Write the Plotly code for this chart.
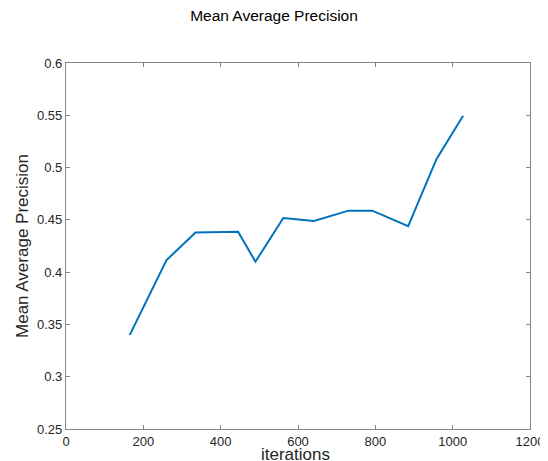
import plotly.graph_objects as go

iterations = [165, 260, 335, 445, 490, 562, 641, 731, 792, 885, 958, 1027]
map_values = [0.340, 0.4115, 0.438, 0.4387, 0.410, 0.4518, 0.449, 0.4588, 0.4588, 0.444, 0.508, 0.5496]

x_ticks = [0, 200, 400, 600, 800, 1000, 1200]
x_ticktext = ["0", "200", "400", "600", "800", "1000", "1200"]
y_ticks = [0.25, 0.3, 0.35, 0.4, 0.45, 0.5, 0.55, 0.6]
y_ticktext = ["0.25", "0.3", "0.35", "0.4", "0.45", "0.5", "0.55", "0.6"]

FONT = "Liberation Sans, Arial, Helvetica, sans-serif"
AXIS_COLOR = "#858585"
TEXT_COLOR = "#262626"

# The page body has an 8px margin, so the figure is 8px smaller than the window
W, H = 540, 453

fig = go.Figure()
fig.add_trace(go.Scatter(
    x=iterations, y=map_values, mode="lines",
    line=dict(color="#0072BD", width=2),
    showlegend=False,
))

axis_common = dict(
    showgrid=False, zeroline=False, showline=True, mirror="ticks",
    linecolor=AXIS_COLOR, linewidth=1.2, ticks="inside", ticklen=4,
    tickcolor=AXIS_COLOR, tickwidth=1, automargin=False,
    tickfont=dict(family=FONT, size=13, color=TEXT_COLOR),
)

fig.update_layout(
    width=W, height=H,
    margin=dict(l=58, r=18, t=55, b=32, autoexpand=False),
    paper_bgcolor="white", plot_bgcolor="white",
    font=dict(family=FONT, color=TEXT_COLOR),
    title=dict(
        text="Mean Average Precision",
        font=dict(family=FONT, size=15.5, color="#000000"),
        x=266 / W, xanchor="center", xref="container",
        y=1 - 8 / H, yanchor="middle", yref="container",
        automargin=False,
    ),
    xaxis=dict(
        range=[0, 1200], tickvals=x_ticks, ticktext=x_ticktext,
        **axis_common,
    ),
    yaxis=dict(
        range=[0.25, 0.6], tickvals=y_ticks, ticktext=y_ticktext,
        title=dict(text="Mean Average Precision", font=dict(family=FONT, size=17, color=TEXT_COLOR), standoff=4),
        **axis_common,
    ),
    annotations=[dict(
        text="iterations", xref="paper", yref="paper", x=0.495, y=0,
        xanchor="center", yanchor="middle", yshift=-25, showarrow=False,
        font=dict(family=FONT, size=17, color=TEXT_COLOR),
    )],
)

fig.write_html("out.html")
